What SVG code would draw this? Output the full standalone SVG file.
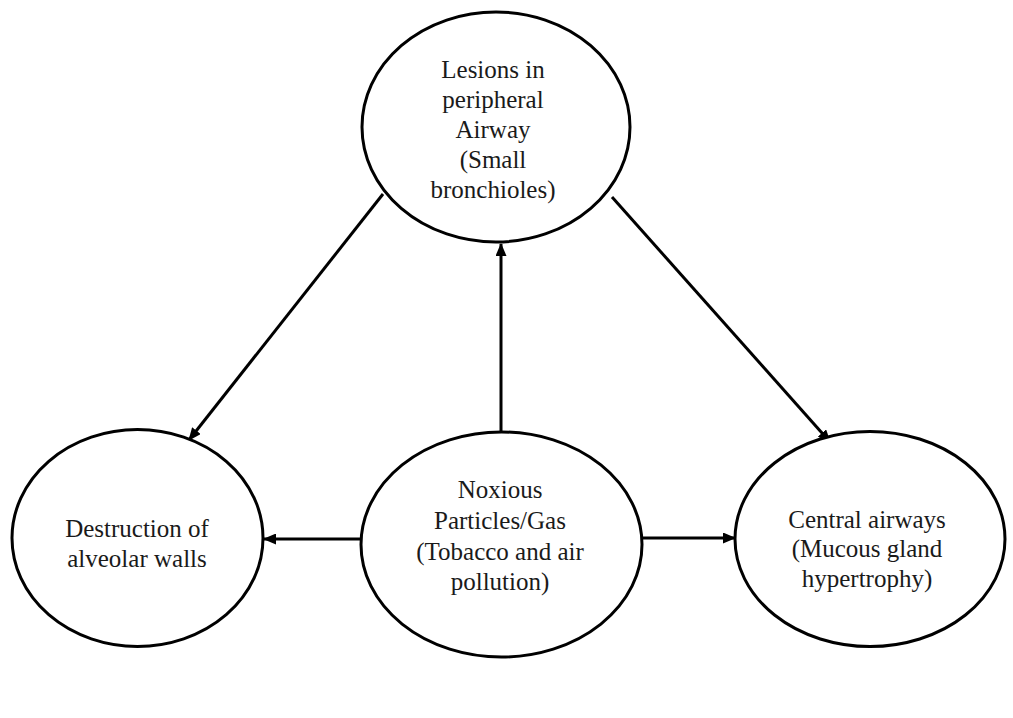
<svg xmlns="http://www.w3.org/2000/svg" width="1013" height="718" viewBox="0 0 1013 718">
<style>
.node{fill:#fff;stroke:#000;stroke-width:3}
.edge{stroke:#000;stroke-width:3;fill:none;marker-end:url(#ah)}
text{font-family:"Liberation Serif","Times New Roman",serif;font-size:25px;fill:#1a1a1a;text-anchor:middle}
</style>
<defs>
<marker id="ah" markerWidth="13" markerHeight="11" refX="12" refY="5.5" orient="auto" markerUnits="userSpaceOnUse">
<path d="M0,0 L13,5.5 L0,11 Z" fill="#000"/>
</marker>
</defs>
<rect width="1013" height="718" fill="#fff"/>
<g id="connectors">
<line class="edge" x1="383" y1="194" x2="189" y2="440"/>
<line class="edge" x1="501" y1="432" x2="501" y2="244"/>
<line class="edge" x1="612" y1="197" x2="830" y2="442"/>
<line class="edge" x1="361" y1="539" x2="264" y2="539"/>
<line class="edge" x1="642" y1="538" x2="735" y2="538"/>
</g>
<g id="node-lesions">
<ellipse class="node" cx="496" cy="127" rx="134" ry="115"/>
<text x="493" y="78">Lesions in</text>
<text x="493" y="108">peripheral</text>
<text x="493" y="138">Airway</text>
<text x="493" y="168">(Small</text>
<text x="493" y="198">bronchioles)</text>
</g>
<g id="node-destruction">
<ellipse class="node" cx="137.5" cy="538" rx="125.5" ry="108.5"/>
<text x="137" y="537">Destruction of</text>
<text x="137" y="567">alveolar walls</text>
</g>
<g id="node-noxious">
<ellipse class="node" cx="501.5" cy="544.5" rx="140.5" ry="112.5"/>
<text x="500" y="498">Noxious</text>
<text x="500" y="529">Particles/Gas</text>
<text x="500" y="560">(Tobacco and air</text>
<text x="500" y="590">pollution)</text>
</g>
<g id="node-central">
<ellipse class="node" cx="870" cy="539" rx="135" ry="107.5"/>
<text x="867" y="528">Central airways</text>
<text x="867" y="557">(Mucous gland</text>
<text x="867" y="587">hypertrophy)</text>
</g>
</svg>
